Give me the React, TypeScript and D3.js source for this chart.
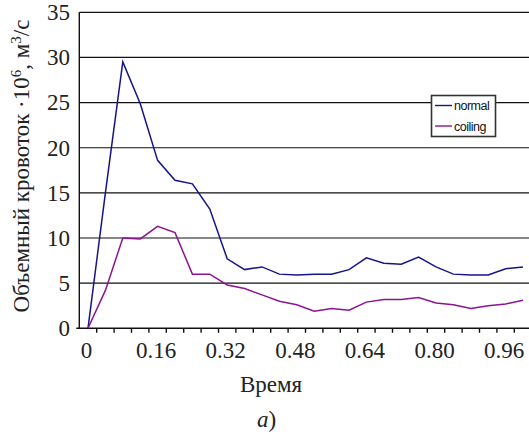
import * as d3 from "d3";
import { useEffect } from "react";

const WIDTH = 529;
const HEIGHT = 434;
const PLOT_LEFT = 79.3;
const PLOT_TOP = 12.3;
const PLOT_BOTTOM = 328.3;
const BAND = 17.4;

// time categories (Excel category axis), label every 4th
const categories = [
  "0", "0.04", "0.08", "0.12", "0.16", "0.20", "0.24", "0.28", "0.32", "0.36",
  "0.40", "0.44", "0.48", "0.52", "0.56", "0.60", "0.64", "0.68", "0.72", "0.76",
  "0.80", "0.84", "0.88", "0.92", "0.96", "1.00",
];
const tickLabels = ["0", "0.16", "0.32", "0.48", "0.64", "0.80", "0.96"];
const yTicks = [0, 5, 10, 15, 20, 25, 30, 35];

const normal = [
  0, 15, 29.5, 24.9, 18.6, 16.4, 16.0, 13.2, 7.7, 6.5, 6.8, 6.0, 5.9, 6.0, 6.0, 6.5,
  7.8, 7.2, 7.1, 7.9, 6.8, 6.0, 5.9, 5.9, 6.6, 6.8,
];
const coiling = [
  0, 4.2, 10.0, 9.9, 11.3, 10.6, 6.0, 6.0, 4.8, 4.4, 3.7, 3.0, 2.6, 1.9, 2.2, 2.0,
  2.9, 3.2, 3.2, 3.4, 2.8, 2.6, 2.2, 2.5, 2.7, 3.1,
];

const series = [
  { name: "normal", values: normal, color: "#14148c" },
  { name: "coiling", values: coiling, color: "#8c1490" },
];

const SERIF = "Liberation Serif, Times New Roman, DejaVu Serif, serif";
const SANS = "Liberation Sans, Arial, sans-serif";

export default function App() {
  useEffect(() => {
    document.body.style.margin = "0";
  }, []);

  const x = d3
    .scaleBand<string>()
    .domain(categories)
    .range([PLOT_LEFT, PLOT_LEFT + BAND * categories.length])
    .padding(0);
  const y = d3.scaleLinear().domain([0, 35]).range([PLOT_BOTTOM, PLOT_TOP]);
  const cx = (c: string) => (x(c) ?? 0) + x.bandwidth() / 2;

  const line = d3
    .line<number>()
    .x((_, i) => cx(categories[i]))
    .y((d) => y(d));

  const right = PLOT_LEFT + BAND * categories.length;
  const serif = { fontFamily: SERIF };

  return (
    <svg width={WIDTH} height={HEIGHT} style={{ display: "block", background: "#fff" }}>
      <g className="grid">
        {yTicks.slice(1).map((t) => (
          <line key={t} x1={PLOT_LEFT} x2={right} y1={y(t)} y2={y(t)} stroke="#111" strokeWidth={1.2} />
        ))}
      </g>
      <g className="y-axis">
        <line x1={PLOT_LEFT} x2={PLOT_LEFT} y1={PLOT_TOP} y2={PLOT_BOTTOM} stroke="#111" strokeWidth={1.4} />
        {yTicks.map((t) => (
          <text key={t} x={70} y={y(t)} dy="0.34em" textAnchor="end" style={serif} fontSize={23} fill="#222">
            {t}
          </text>
        ))}
      </g>
      <g className="x-axis">
        <line x1={PLOT_LEFT - 3} x2={right} y1={PLOT_BOTTOM} y2={PLOT_BOTTOM} stroke="#111" strokeWidth={1.4} />
        {categories.map((c) => (
          <line
            key={c}
            x1={(x(c) ?? 0) + BAND}
            x2={(x(c) ?? 0) + BAND}
            y1={PLOT_BOTTOM}
            y2={PLOT_BOTTOM + 4.5}
            stroke="#111"
            strokeWidth={1.4}
          />
        ))}
        {tickLabels.map((c) => (
          <text key={c} x={cx(c) - 1.5} y={358.3} textAnchor="middle" style={serif} fontSize={23} fill="#222">
            {c}
          </text>
        ))}
      </g>
      <g className="series">
        {series.map((s) => (
          <path key={s.name} d={line(s.values) ?? ""} fill="none" stroke={s.color} strokeWidth={1.5} />
        ))}
      </g>
      <g className="legend">
        <rect x={431.5} y={95.5} width={64} height={41} fill="#fff" stroke="#333" strokeWidth={1.6} />
        {series.map((s, i) => (
          <g key={s.name} transform={`translate(0, ${i * 20.5})`}>
            <line x1={435} x2={452} y1={105.5} y2={105.5} stroke={s.color} strokeWidth={1.4} />
            <text x={454} y={110} style={{ fontFamily: SANS }} fontSize={12.5} letterSpacing={-0.5} fill="#111">
              {s.name}
            </text>
          </g>
        ))}
      </g>
      <text x={271} y={392.3} textAnchor="middle" style={serif} fontSize={23} fill="#222">
        Время
      </text>
      <text x={266.7} y={426.7} textAnchor="middle" style={serif} fontSize={23} fill="#222">
        <tspan fontStyle="italic">a</tspan>)
      </text>
      <text
        transform={`translate(29, 166) rotate(-90)`}
        textAnchor="middle"
        style={serif}
        fontSize={23}
        fill="#222"
      >
        Объемный кровоток ·10
        <tspan dy={-8} fontSize={15}>6</tspan>
        <tspan dy={8}>, м</tspan>
        <tspan dy={-8} fontSize={15}>3</tspan>
        <tspan dy={8}>/с</tspan>
      </text>
    </svg>
  );
}
